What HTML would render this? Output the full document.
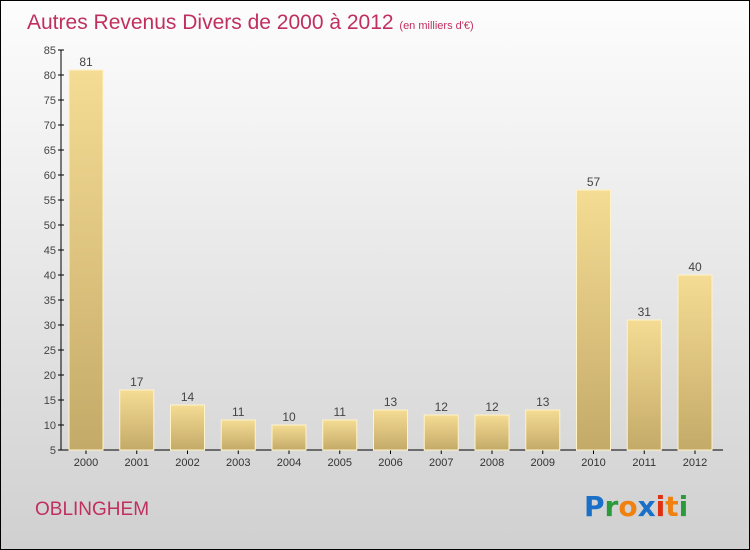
<!DOCTYPE html>
<html><head><meta charset="utf-8"><style>
body{margin:0}
#wrap{width:748px;height:548px;border:1px solid #000;background:linear-gradient(#fdfdfd,#f0f0f0 30%,#d0d0d0);position:relative;overflow:hidden;font-family:"Liberation Sans",sans-serif}
</style></head><body>
<div id="wrap">
<svg width="748" height="548" id="chart">
<defs><linearGradient id="bg" x1="0" y1="0" x2="0" y2="1"><stop offset="0" stop-color="#f5dc94"/><stop offset="1" stop-color="#c4aa68"/></linearGradient></defs>
<text x="26" y="28" font-size="21" fill="#c0305f">Autres Revenus Divers de 2000 à 2012 <tspan font-size="11">(en milliers d'€)</tspan></text>
<text x="34" y="514" font-size="19" fill="#c0305f">OBLINGHEM</text>
<g font-size="28" font-weight="bold" font-family="'DejaVu Sans',sans-serif">
<text x="583" y="515"><tspan fill="#1a70c8">P</tspan><tspan fill="#2a9a3a">r</tspan><tspan fill="#f08010">o</tspan><tspan fill="#1a70c8">x</tspan><tspan fill="#e03010">i</tspan><tspan fill="#f08010">t</tspan><tspan fill="#2a9a3a">i</tspan></text></g>
<g id="axes"></g><g id="bars"></g>
</svg></div>
<script>
const years=["2000","2001","2002","2003","2004","2005","2006","2007","2008","2009","2010","2011","2012"];
const values=[81,17,14,11,10,11,13,12,12,13,57,31,40];
const ticks=[5,10,15,20,25,30,35,40,45,50,55,60,65,70,75,80,85];
const NS="http://www.w3.org/2000/svg";
const y=v=>449-(v-5)*5;
const x=i=>85+i*50.75;
function mk(t,a,p){const e=document.createElementNS(NS,t);for(const k in a)e.setAttribute(k,a[k]);p.appendChild(e);return e;}
const ax=document.getElementById('axes'),bs=document.getElementById('bars');
const yl=mk('line',{x1:60,x2:60,y1:y(85),y2:y(5),stroke:'#000'},ax);


const xl=mk('line',{x1:60,x2:722,y1:y(5),y2:y(5),stroke:'#000'},ax);


ticks.forEach(t=>{
 mk('line',{x1:57,x2:63,y1:y(t),y2:y(t),stroke:'#000'},ax);
 const tx=mk('text',{x:55,y:y(t)+4,'text-anchor':'end','font-size':11,fill:'#444'},ax);tx.textContent=t;
 
 
});
years.forEach((yr,i)=>{
 const cx=x(i);
 mk('line',{x1:cx,x2:cx,y1:y(5),y2:y(5)+4,stroke:'#000'},ax);
 const lb=mk('text',{x:cx,y:y(5)+16,'text-anchor':'middle','font-size':11,fill:'#333'},ax);lb.textContent=yr;
 
 
 const r=mk('rect',{x:cx-17,y:y(values[i]),width:34,height:y(5)-y(values[i]),fill:'url(#bg)',stroke:'#fff3c8','stroke-width':1},bs);
 
 
 const v=mk('text',{x:cx,y:y(values[i])-4,'text-anchor':'middle','font-size':12,fill:'#444'},bs);v.textContent=values[i];
 
 
});
</script>
</body></html>
